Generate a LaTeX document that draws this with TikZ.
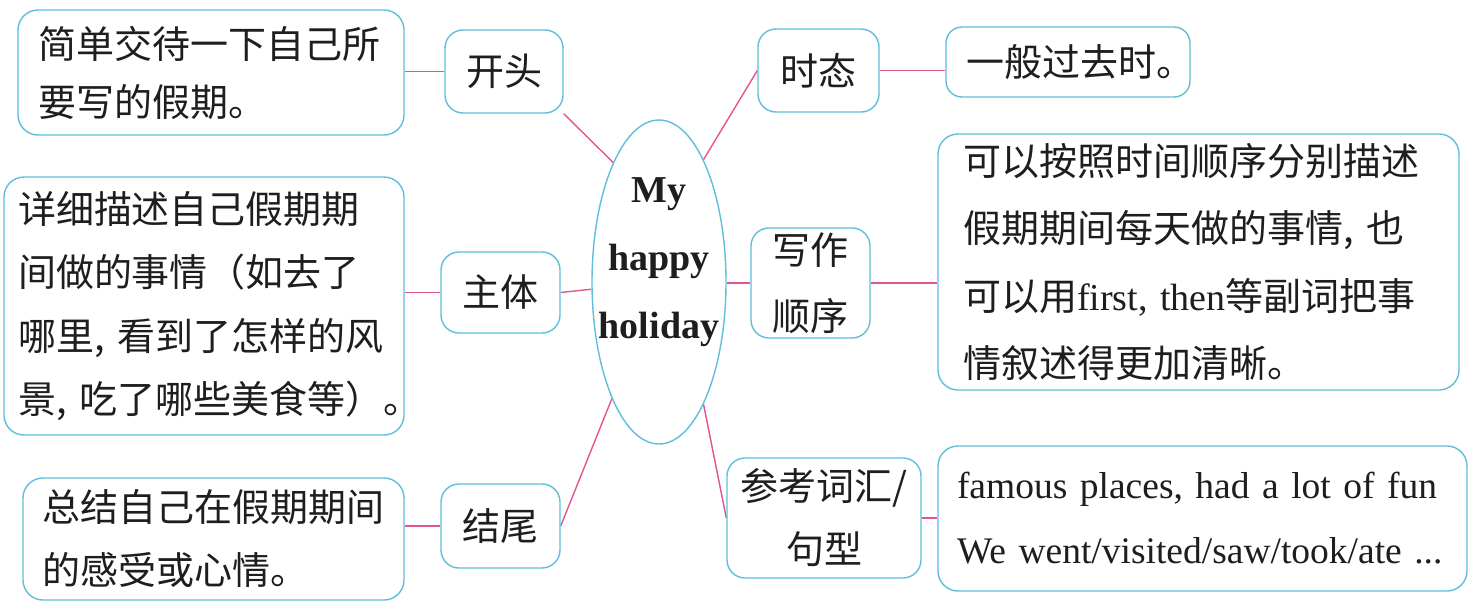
\documentclass[tikz,border=0pt]{standalone}
\usepackage{fontspec}
\setmainfont{Liberation Serif}
\newfontfamily\zhf{Noto Sans CJK SC}
\usetikzlibrary{shapes.geometric,calc}
\pgfdeclarelayer{bg}
\pgfsetlayers{bg,main}
\definecolor{boxc}{RGB}{95,190,220}
\definecolor{linkc}{RGB}{225,85,145}
\definecolor{txt}{RGB}{30,30,30}
\tikzset{
  bx/.style={draw=boxc, fill=white, line width=1.4pt, rounded corners=20pt, align=left, inner ysep=0pt, text=txt},
  lbl/.style={draw=boxc, fill=white, line width=1.4pt, rounded corners=18pt, align=center, inner sep=0pt, text=txt},
  link/.style={draw=linkc, line width=1.4pt},
}
\newcommand{\zhsz}[1]{\zhf\fontsize{38}{#1}\selectfont}
\begin{document}
\begin{tikzpicture}[x=1pt,y=-1pt]
\useasboundingbox (0,0) rectangle (1478,611);
% center ellipse
\node[ellipse, draw=boxc, fill=white, line width=1.4pt, minimum width=134pt, minimum height=324pt, inner sep=0pt] (c) at (659,282) {};
\node[align=center, text=txt, font=\bfseries\fontsize{38}{68}\selectfont] (ctext) at (659,262) {My\\happy\\holiday};
% left side
\node[bx, text width=346pt, inner xsep=20pt, minimum height=125pt, font=\zhsz{58}] (A) at (211,72.5) {简单交待一下自己所\\要写的假期。};
\node[lbl, minimum width=118pt, minimum height=83pt, font=\zhsz{58}] (kt) at (504,71.5) {开头};
\node[bx, text width=372pt, inner xsep=14pt, minimum height=258pt, font=\zhsz{63.3}] (B) at (204,306) {详细描述自己假期期\\间做的事情（如去了\\哪里,~看到了怎样的风\\景,~吃了哪些美食等）。};
\node[lbl, minimum width=119pt, minimum height=81pt, font=\zhsz{58}] (zt) at (500.5,292.5) {主体};
\node[bx, text width=343pt, inner xsep=19pt, minimum height=122pt, font=\zhsz{63}] (C) at (213.5,539) {总结自己在假期期间\\的感受或心情。};
\node[lbl, minimum width=119pt, minimum height=84pt, font=\zhsz{58}] (jw) at (500.5,526) {结尾};
% right side
\node[lbl, minimum width=121pt, minimum height=83pt, font=\zhsz{58}] (st) at (818.5,70.5) {时态};
\node[bx, rounded corners=16pt, text width=204pt, inner xsep=20pt, minimum height=70pt, font=\zhsz{58}] (D) at (1068,62) {一般过去时。};
\node[lbl, minimum width=119pt, minimum height=110pt, font=\zhsz{66}] (xz) at (810.5,283) {写作\\顺序};
\node[bx, text width=471pt, inner xsep=25pt, minimum height=256pt, font=\zhsz{67.3}] (E) at (1198.5,262) {可以按照时间顺序分别描述\\假期期间每天做的事情,~也\\可以用{\rmfamily first,~then}等副词把事\\情叙述得更加清晰。};
\node[lbl, minimum width=194pt, minimum height=120pt, font=\zhsz{63}] (ck) at (824,518) {参考词汇/\\句型};
\node[bx, text width=491pt, inner xsep=19pt, minimum height=145pt, font=\fontsize{37.5}{65}\selectfont] (F) at (1202.5,518.5) {\mbox{famous places, had a lot of fun}\\\mbox{We went/visited/saw/took/ate ...}};
% connectors
\begin{pgfonlayer}{bg}
\draw[link] (kt.west) -- (kt.west -| A.east);
\draw[link] (kt.south east) -- (c.111);
\draw[link] (zt.west) -- (zt.west -| B.east);
\draw[link] (zt.east) -- (c);
\draw[link] (jw.west) -- (jw.west -| C.east);
\draw[link] (jw.east) -- (c.248);
\draw[link] (c.70) -- (st.west);
\draw[link] (st.east) -- (st.east -| D.west);
\draw[link] (xz.west) -- (xz.west -| c.east);
\draw[link] (xz.east) -- (xz.east -| E.west);
\draw[link] (c.-70) -- (ck.west);
\draw[link] (ck.east) -- (ck.east -| F.west);
\end{pgfonlayer}
\end{tikzpicture}
\end{document}
